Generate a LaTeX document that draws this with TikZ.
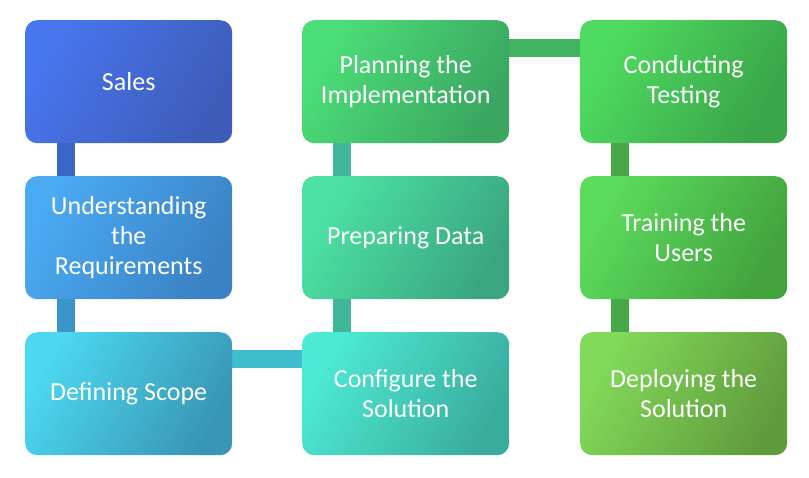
\documentclass[tikz,border=0pt]{standalone}
\usepackage{fontspec}
\setmainfont{Carlito}
\begin{document}
\begin{tikzpicture}[x=1pt,y=-1pt,
 box/.style={rounded corners=12pt,minimum width=207pt,minimum height=123pt,anchor=north west,inner sep=0pt,align=center,text=white,font=\fontsize{26}{30}\selectfont,shading angle=60},
 bar/.style={line width=18pt}]
\useasboundingbox (0,0) rectangle (809,478);
\definecolor{c1}{HTML}{3A66C4}\definecolor{c2}{HTML}{3A96C8}\definecolor{c3}{HTML}{40BCCC}
\definecolor{c4}{HTML}{40B698}\definecolor{c5}{HTML}{40B462}\definecolor{c6}{HTML}{48A848}
\coordinate (s1) at (66,143);\coordinate (e1) at (66,176);
\coordinate (s2) at (66,299);\coordinate (e2) at (66,332);
\coordinate (s3) at (232,359);\coordinate (e3) at (302,359);
\coordinate (s4) at (342,332);\coordinate (e4) at (342,299);
\coordinate (s5) at (342,176);\coordinate (e5) at (342,143);
\coordinate (s6) at (509,48);\coordinate (e6) at (580,48);
\coordinate (s7) at (620,143);\coordinate (e7) at (620,176);
\coordinate (s8) at (620,299);\coordinate (e8) at (620,332);
\draw[bar,c1] (s1)--(e1);\draw[bar,c2] (s2)--(e2);\draw[bar,c3] (s3)--(e3);
\draw[bar,c4] (s4)--(e4);\draw[bar,c4] (s5)--(e5);\draw[bar,c5] (s6)--(e6);
\draw[bar,c6] (s7)--(e7);\draw[bar,c6] (s8)--(e8);
\node[box,left color={rgb,255:red,72;green,118;blue,238},right color={rgb,255:red,60;green,92;blue,184},shading angle=60] (a) at (25,20) {Sales};
\node[box,left color={rgb,255:red,74;green,170;blue,242},right color={rgb,255:red,58;green,130;blue,196},shading angle=60] (b) at (25,176) {Understanding\\the\\Requirements};
\node[box,left color={rgb,255:red,76;green,216;blue,240},right color={rgb,255:red,56;green,150;blue,180},shading angle=60] (c) at (25,332) {Defining Scope};
\node[box,left color={rgb,255:red,76;green,222;blue,120},right color={rgb,255:red,58;green,166;blue,96},shading angle=60] (d) at (302,20) {Planning the\\Implementation};
\node[box,left color={rgb,255:red,76;green,226;blue,164},right color={rgb,255:red,58;green,166;blue,128},shading angle=60] (e) at (302,176) {Preparing Data};
\node[box,left color={rgb,255:red,76;green,234;blue,212},right color={rgb,255:red,58;green,172;blue,158},shading angle=60] (f) at (302,332) {Configure the\\Solution};
\node[box,left color={rgb,255:red,78;green,220;blue,96},right color={rgb,255:red,58;green,164;blue,72},shading angle=60] (g) at (580,20) {Conducting\\Testing};
\node[box,left color={rgb,255:red,92;green,220;blue,92},right color={rgb,255:red,66;green,162;blue,62},shading angle=60] (h) at (580,176) {Training the\\Users};
\node[box,left color={rgb,255:red,130;green,218;blue,90},right color={rgb,255:red,96;green,156;blue,60},shading angle=60] (i) at (580,332) {Deploying the\\Solution};
\end{tikzpicture}
\end{document}
